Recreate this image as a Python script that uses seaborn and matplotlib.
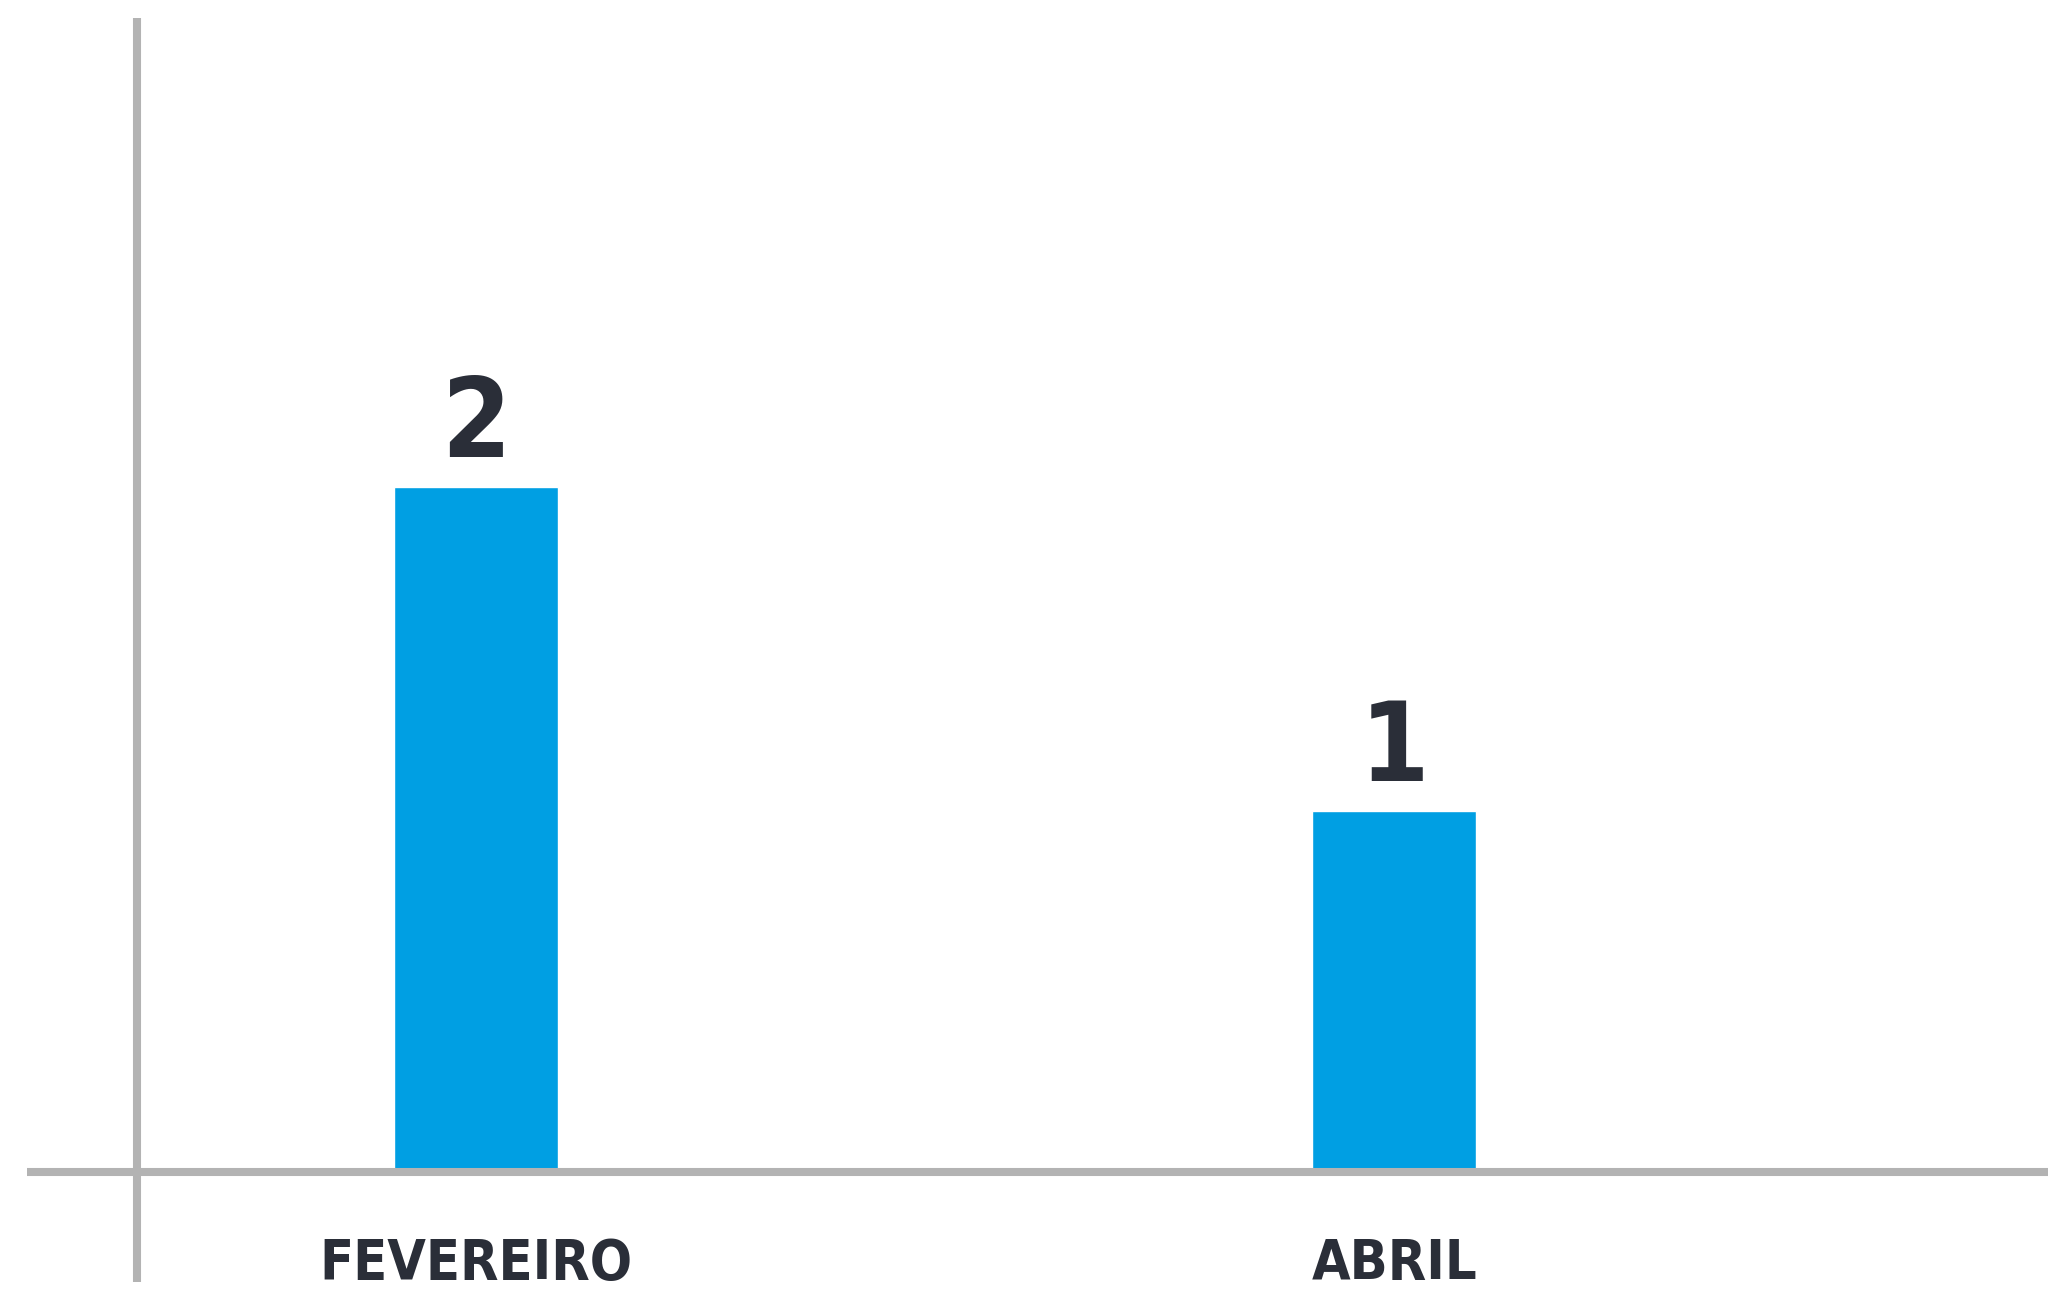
import matplotlib
matplotlib.use("Agg")
import matplotlib.pyplot as plt
import seaborn as sns
import pandas as pd

months = ["FEVEREIRO", "ABRIL"]
counts = [2, 1]
baseline = -0.113

sns.set_theme(style="white")
plt.rcParams['font.family'] = ['DejaVu Sans']
plt.rcParams['font.stretch'] = 'condensed'

W, H = 2048, 1291
fig = plt.figure(figsize=(W / 100, H / 100), dpi=100)
left, right = 137, 2048
top, axis_y = 18, 1171.5
ax = fig.add_axes([left / W, (H - axis_y) / H, (right - left) / W, (axis_y - top) / H])

df = pd.DataFrame({"month": months, "count": counts})
sns.barplot(data=df, x="month", y="count", color="#009fe3", saturation=1,
            width=0.178, ax=ax)

for p, v in zip(ax.patches, counts):
    p.set_y(baseline)
    p.set_height(v - baseline)
    ax.text(p.get_x() + p.get_width() / 2, v + 0.021, str(v), ha="center", va="bottom",
            fontsize=80, fontweight="bold", fontstretch="condensed", color="#2a2e38")

ax.set_xlim(-0.369, 1.712)
ax.set_ylim(baseline, 3.447)
ax.set_xlabel("")
ax.set_ylabel("")
ax.set_yticks([])
for s in ax.spines.values():
    s.set_visible(False)
ax.tick_params(axis="x", length=0, pad=47, labelsize=40, labelcolor="#2a2e38")
for t in ax.get_xticklabels():
    t.set_fontweight("bold")
    t.set_fontstretch("condensed")

gray = "#b3b3b3"
ax.plot([-0.0576, 1], [0, 0], transform=ax.transAxes, color=gray, lw=5.8,
        clip_on=False, solid_capstyle="butt", zorder=5)
ax.plot([0, 0], [-0.0958, 1], transform=ax.transAxes, color=gray, lw=5.8,
        clip_on=False, solid_capstyle="butt", zorder=5)

fig.savefig("out.png", dpi=100)
